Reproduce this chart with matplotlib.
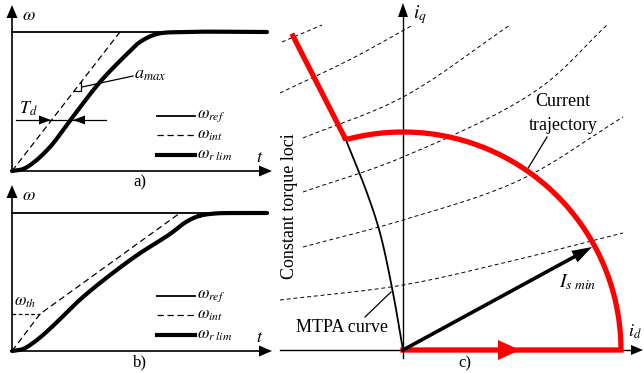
import numpy as np
import matplotlib.pyplot as plt

plt.rcParams['font.family'] = ['Liberation Serif', 'DejaVu Serif']
plt.rcParams['mathtext.fontset'] = 'stix'

# --- panel a) / b) speed curves (pixel coords of the picture, y down) ---
a_orig = (12, 171)
a_top = 32
a_int = [(12, 171), (120, 32)]
a_lim = [(12, 171), (23, 169), (33, 163), (50, 147), (72, 118), (100, 82),
         (128, 53), (140, 42), (157, 34), (183, 32), (267, 32)]

b_orig = (12, 351)
b_top = 213
b_int = [(12, 351), (40, 314), (180, 213)]
b_lim = [(12, 351), (23, 349), (33, 343), (43, 335), (55, 324), (83, 297),
         (133, 258), (170, 234), (186, 222), (199, 216), (215, 213.5),
         (240, 213), (267, 213)]
b_th = 314

legend_labels = [r'$\omega_{ref}$', r'$\omega_{int}$', r'$\omega_{r\ lim}$']

# --- panel c) current plane ---
c_orig = (403, 350)
R_smin = 218
mtpa_angle = 105.2
mtpa = [(403, 350), (393, 293), (380, 233), (367, 193), (346, 140)]
mtpa_ext = [(346, 140), (293, 36)]
is_tip = (592, 247)
torque_loci = [
    [(282, 42), (322, 25)],
    [(280, 93), (353, 58), (413, 25)],
    [(303, 138), (403, 97), (510, 25)],
    [(303, 192), (403, 157), (537, 90), (607, 25)],
    [(303, 247), (403, 220), (520, 180), (623, 117)],
    [(280, 300), (403, 285), (503, 263), (623, 233)],
]


def smooth(pts, n=30, alpha=0.5):
    # centripetal Catmull-Rom through the read-off points
    p = np.asarray(pts, float)
    if len(p) == 2:
        return p
    p = np.vstack([2 * p[0] - p[1], p, 2 * p[-1] - p[-2]])
    out = []
    for i in range(len(p) - 3):
        P0, P1, P2, P3 = p[i:i + 4]
        t0 = 0.0
        t1 = t0 + np.hypot(*(P1 - P0)) ** alpha
        t2 = t1 + np.hypot(*(P2 - P1)) ** alpha
        t3 = t2 + np.hypot(*(P3 - P2)) ** alpha
        t = np.linspace(t1, t2, n)[:, None]
        A1 = (t1 - t) / (t1 - t0) * P0 + (t - t0) / (t1 - t0) * P1
        A2 = (t2 - t) / (t2 - t1) * P1 + (t - t1) / (t2 - t1) * P2
        A3 = (t3 - t) / (t3 - t2) * P2 + (t - t2) / (t3 - t2) * P3
        B1 = (t2 - t) / (t2 - t0) * A1 + (t - t0) / (t2 - t0) * A2
        B2 = (t3 - t) / (t3 - t1) * A2 + (t - t1) / (t3 - t1) * A3
        out.append((t2 - t) / (t2 - t1) * B1 + (t - t1) / (t2 - t1) * B2)
    return np.vstack(out)


def head(ax, tip, direction, length=13, half=5.5, color='black'):
    d = np.asarray(direction, float)
    d = d / np.hypot(*d)
    n = np.array([-d[1], d[0]])
    tip = np.asarray(tip, float)
    base = tip - d * length
    tri = np.array([tip, base + n * half, base - n * half])
    ax.fill(tri[:, 0], tri[:, 1], color=color, lw=0, zorder=5)


fig = plt.figure(figsize=(6.44, 3.73), dpi=100)
ax = fig.add_axes([0, 0, 1, 1])
ax.set_xlim(0, 644)
ax.set_ylim(373, 0)
ax.axis('off')

thin = 0.9
thick = 3.0


def speed_panel(orig, top, int_pts, lim_pts, tag):
    x0, y0 = orig
    # axes
    ax.plot([x0, x0], [y0, y0 - 158], color='black', lw=1.2)
    head(ax, (x0, y0 - 166), (0, -1))
    ax.plot([x0, 262], [y0, y0], color='black', lw=1.2)
    head(ax, (272, y0), (1, 0))
    # reference step
    ax.plot([x0, 265], [top, top], color='black', lw=thin + 0.4)
    p = np.asarray(int_pts, float)
    ax.plot(p[:, 0], p[:, 1], color='black', lw=thin, dashes=(5, 3))
    p = smooth(lim_pts)
    ax.plot(p[:, 0], p[:, 1], color='black', lw=thick, solid_capstyle='round')
    # legend
    for k, (lab, y) in enumerate(zip(legend_labels, [y0 - 55, y0 - 36, y0 - 16])):
        style = dict(color='black')
        if k == 0:
            ax.plot([157, 195], [y, y], lw=1.3, **style)
        elif k == 1:
            ax.plot([157, 195], [y, y], lw=thin, dashes=(5, 3), **style)
        else:
            ax.plot([157, 195], [y, y], lw=thick, **style)
        ax.text(197, y, lab, fontsize=12, va='center', ha='left')
    ax.text(x0 + 10, y0 - 156, r'$\omega$', fontsize=13, va='center')
    ax.text(256, y0 - 14, r'$t$', fontsize=13, va='center')
    ax.text(140, y0 + 11, tag, fontsize=12, va='center', ha='center')


speed_panel(a_orig, a_top, a_int, a_lim, 'a)')
speed_panel(b_orig, b_top, b_int, b_lim, 'b)')

# T_d marker
ax.plot([16, 106], [120, 120], color='black', lw=thin)
head(ax, (51, 120), (1, 0), length=12, half=4.5)
head(ax, (73, 120), (-1, 0), length=12, half=4.5)
ax.text(19, 109, r'$T_d$', fontsize=13, va='center')
# a_max marker
ax.plot([74, 81, 81], [91, 91, 82], color='black', lw=thin)
ax.plot([82, 133], [87, 76], color='black', lw=thin)
ax.text(134, 74, r'$a_{max}$', fontsize=13, va='center')
# omega_th
ax.plot([12, 40], [b_th, b_th], color='black', lw=thin, dashes=(3, 2))
ax.text(14, 302, r'$\omega_{th}$', fontsize=12, va='center')

# --- panel c ---
ox, oy = c_orig
ax.plot([280, 633], [oy, oy], color='black', lw=1.0)
head(ax, (643, oy), (1, 0), length=12, half=5)
ax.plot([ox, ox], [358, 16], color='black', lw=1.0)
head(ax, (ox, 3), (0, -1), length=14, half=5)
ax.text(413, 15, r'$i_q$', fontsize=14, va='center')
ax.text(628, 332, r'$i_d$', fontsize=13, va='center')
ax.text(465, 363, 'c)', fontsize=12, va='center', ha='center')

for loc in torque_loci:
    p = smooth(loc)
    ax.plot(p[:, 0], p[:, 1], color='black', lw=0.7, dashes=(4, 3))

p = smooth(mtpa)
ax.plot(p[:, 0], p[:, 1], color='black', lw=1.3)

red = '#ff0000'
ang = np.radians(np.linspace(mtpa_angle, 0, 200))
arc_x = ox + R_smin * np.cos(ang)
arc_y = oy - R_smin * np.sin(ang)
path_x = [mtpa_ext[1][0], mtpa_ext[0][0]] + list(arc_x) + [ox + R_smin, ox]
path_y = [mtpa_ext[1][1], mtpa_ext[0][1]] + list(arc_y) + [oy, oy]
ax.plot(path_x, path_y, color=red, lw=3.8, solid_joinstyle='miter', zorder=4)
head(ax, (520, oy), (1, 0), length=22, half=10, color=red)

ax.plot([ox, is_tip[0] - 15], [oy, is_tip[1] + 8.3], color='black', lw=2.6, zorder=5)
head(ax, is_tip, (is_tip[0] - ox, is_tip[1] - oy), length=20, half=6.5)
ax.text(559, 282, r'$I_{s\ min}$', fontsize=14, va='center')

ax.text(563, 102, 'Current', fontsize=13, ha='center', va='center')
ax.text(563, 125, 'trajectory', fontsize=13, ha='center', va='center')
ax.plot([547, 527], [137, 170], color='black', lw=thin)
ax.text(342, 328, 'MTPA curve', fontsize=13, ha='center', va='center')
ax.plot([365, 391], [317, 292], color='black', lw=thin)
ax.text(290, 206, 'Constant torque loci', fontsize=13, rotation=90,
        ha='center', va='center')

fig.savefig('out.png', dpi=100)
